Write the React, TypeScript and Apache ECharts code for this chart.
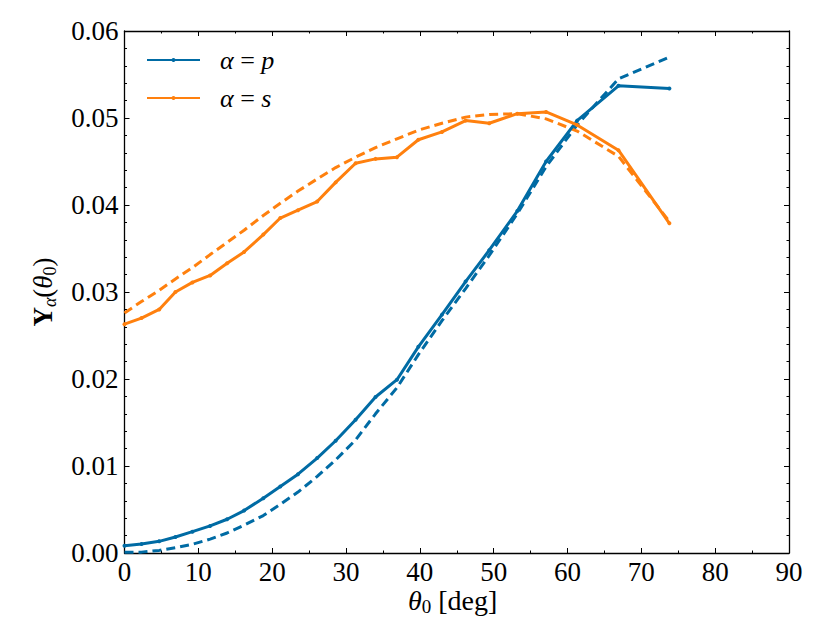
import React, { useEffect, useRef } from "react";
import * as echarts from "echarts";

const theta = [0, 2.3, 4.7, 6.9, 9.2, 11.6, 13.9, 16.2, 18.8, 21.1, 23.5, 26.1, 28.6, 31.3, 34.0, 36.9, 39.8, 43.0, 46.2, 49.4, 53.2, 57.1, 61.3, 66.9, 73.8];

const pMeasured = [0.00084, 0.00104, 0.00134, 0.00184, 0.00245, 0.00311, 0.00388, 0.00488, 0.0063, 0.00764, 0.00906, 0.01091, 0.0129, 0.01532, 0.01793, 0.01992, 0.0237, 0.0274, 0.0312, 0.0348, 0.0393, 0.045, 0.0497, 0.0537, 0.0534];
const sMeasured = [0.0263, 0.027, 0.028, 0.03, 0.0311, 0.0319, 0.0333, 0.0346, 0.0366, 0.0385, 0.0394, 0.0404, 0.0426, 0.0448, 0.0453, 0.0455, 0.0475, 0.0484, 0.0497, 0.0494, 0.0505, 0.0507, 0.0492, 0.0463, 0.0379];
const pTheory = [0.0001, 0.0001, 0.0003, 0.0006, 0.001, 0.0016, 0.0023, 0.0032, 0.0043, 0.0056, 0.007, 0.0088, 0.0107, 0.013, 0.016, 0.019, 0.0228, 0.0267, 0.0304, 0.0342, 0.039, 0.0444, 0.0492, 0.0545, 0.057];
const sTheory = [0.0276, 0.0289, 0.0302, 0.0315, 0.0328, 0.0343, 0.0357, 0.0371, 0.0388, 0.0402, 0.0416, 0.043, 0.0443, 0.0455, 0.0466, 0.0476, 0.0486, 0.0494, 0.0501, 0.0504, 0.0505, 0.0499, 0.0485, 0.0456, 0.0381];

const xTicks = { min: 0, max: 90, interval: 10 };
const yTicks = { min: 0, max: 0.06, interval: 0.01 };

const BLUE = "#006BA4";
const ORANGE = "#FF800E";
const FONT = "Liberation Serif";

const pairs = (ys: number[]) => theta.map((t, i) => [t, ys[i]]);

export default function App() {
  const ref = useRef<HTMLDivElement>(null);
  useEffect(() => {
    if (!ref.current) return;
    const chart = echarts.init(ref.current, undefined, { renderer: "svg" });
    const frameAxis = {
      axisLine: { show: true, onZero: false, lineStyle: { color: "#000", width: 1.3 } },
      axisTick: { show: true, inside: true, length: 5, lineStyle: { color: "#000", width: 1 } },
      splitLine: { show: false },
    };
    const minor = (n: number) => ({ show: true, splitNumber: n, length: 2.5, lineStyle: { color: "#000", width: 1 } });
    const tickRich = { t: { fontFamily: FONT, fontSize: 27, color: "#000" } };
    const option: any = {
      animation: false,
      textStyle: { fontFamily: FONT, color: "#000" },
      grid: { left: 124.5, right: 41, top: 31, bottom: 70, containLabel: false },
      xAxis: [
        {
          type: "value", position: "bottom", ...xTicks, ...frameAxis, minorTick: minor(2),
          axisLabel: {
            show: true, margin: 5, fontFamily: FONT, fontSize: 27, color: "#000",
            formatter: (v: number) => `{t|${v}}`, rich: tickRich,
          },
        },
        {
          type: "value", position: "top", ...xTicks, ...frameAxis, minorTick: minor(2),
          axisLabel: { show: false },
        },
      ],
      yAxis: [
        {
          type: "value", position: "left", ...yTicks, ...frameAxis, minorTick: minor(5),
          axisLabel: {
            show: true, margin: 6, fontFamily: FONT, fontSize: 27, color: "#000",
            formatter: (v: number) => `{t|${v.toFixed(2)}}`, rich: tickRich,
          },
        },
        {
          type: "value", position: "right", ...yTicks, ...frameAxis, minorTick: minor(5),
          axisLabel: { show: false },
        },
      ],
      legend: {
        data: ["p", "s"],
        orient: "vertical",
        left: 146,
        top: 47,
        padding: 0,
        itemWidth: 53,
        itemHeight: 5,
        itemGap: 12,
        formatter: (name: string) => `{i|α}{n| = }{i|${name}}`,
        textStyle: {
          fontFamily: FONT,
          fontSize: 26,
          color: "#000",
          lineHeight: 26,
          rich: {
            i: { fontFamily: FONT, fontSize: 26, fontStyle: "italic", color: "#000", lineHeight: 26 },
            n: { fontFamily: FONT, fontSize: 26, color: "#000", lineHeight: 26 },
          },
          padding: [0, 0, 0, 15],
        },
      },
      series: [
        {
          name: "p", type: "line", data: pairs(pMeasured), xAxisIndex: 0, yAxisIndex: 0,
          symbol: "circle", symbolSize: 4, showSymbol: true,
          lineStyle: { color: BLUE, width: 3 }, itemStyle: { color: BLUE }, z: 4,
        },
        {
          name: "s", type: "line", data: pairs(sMeasured), xAxisIndex: 0, yAxisIndex: 0,
          symbol: "circle", symbolSize: 4, showSymbol: true,
          lineStyle: { color: ORANGE, width: 3 }, itemStyle: { color: ORANGE }, z: 4,
        },
        {
          name: "p theory", type: "line", data: pairs(pTheory), xAxisIndex: 0, yAxisIndex: 0,
          symbol: "none", lineStyle: { color: BLUE, width: 3, type: [9, 5] }, z: 3,
        },
        {
          name: "s theory", type: "line", data: pairs(sTheory), xAxisIndex: 0, yAxisIndex: 0,
          symbol: "none", lineStyle: { color: ORANGE, width: 3, type: [9, 5] }, z: 3,
        },
      ],
      graphic: [
        {
          type: "text",
          left: 408,
          top: 586,
          style: {
            text: "{i|θ}{s|0}{n| [deg]}",
            fill: "#000",
            font: `28px ${FONT}`,
            rich: {
              i: { fontFamily: FONT, fontSize: 28, fontStyle: "italic", fill: "#000", lineHeight: 32, verticalAlign: "middle" },
              s: { fontFamily: FONT, fontSize: 19, fill: "#000", lineHeight: 32, verticalAlign: "bottom" },
              n: { fontFamily: FONT, fontSize: 28, fill: "#000", lineHeight: 32, verticalAlign: "middle" },
            },
          },
        },
        {
          type: "text",
          x: 43,
          y: 292,
          rotation: Math.PI / 2,
          style: {
            text: "{b|Y}{s|α}{n|(}{i|θ}{s2|0}{n|)}",
            fill: "#000",
            align: "center",
            verticalAlign: "middle",
            font: `27px ${FONT}`,
            rich: {
              b: { fontFamily: FONT, fontSize: 27, fontWeight: "bold", fill: "#000", lineHeight: 32, verticalAlign: "middle" },
              i: { fontFamily: FONT, fontSize: 27, fontStyle: "italic", fill: "#000", lineHeight: 32, verticalAlign: "middle" },
              s: { fontFamily: FONT, fontSize: 18, fontStyle: "italic", fill: "#000", lineHeight: 32, verticalAlign: "bottom" },
              s2: { fontFamily: FONT, fontSize: 18, fill: "#000", lineHeight: 32, verticalAlign: "bottom" },
              n: { fontFamily: FONT, fontSize: 27, fill: "#000", lineHeight: 32, verticalAlign: "middle" },
            },
          },
        },
      ],
    };
    chart.setOption(option);
    return () => chart.dispose();
  }, []);
  return (
    <div
      ref={ref}
      style={{ position: "fixed", left: 0, top: 0, width: 830, height: 623, background: "#fff" }}
    />
  );
}
